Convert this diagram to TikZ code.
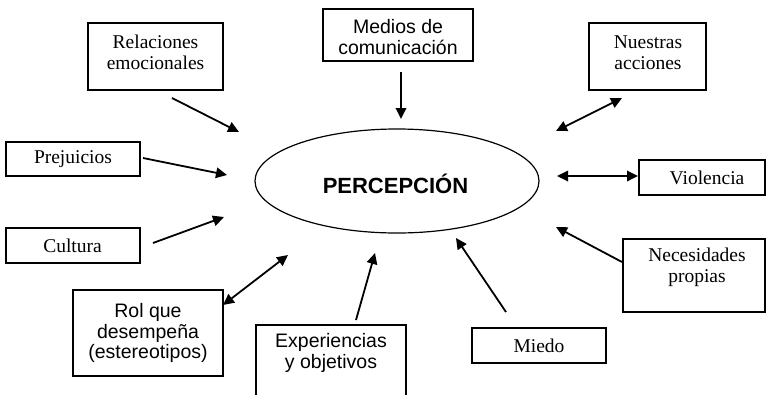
\documentclass[tikz,border=0pt]{standalone}
\usepackage{fontspec}
\setmainfont{Liberation Serif}
\newfontfamily\arialf{Liberation Sans}
\usetikzlibrary{arrows.meta,shapes.geometric}
\begin{document}
\begin{tikzpicture}[x=1pt,y=-1pt,
  box/.style={draw,line width=1.2pt,inner sep=0pt},
  stxt/.style={font=\fontsize{19.5}{20.5}\selectfont,align=center,inner sep=0pt},
  atxt/.style={font=\arialf\fontsize{19.5}{20.5}\selectfont,align=center,inner sep=0pt},
  tip/.tip={Triangle[length=11pt,width=10.5pt]},
  arr/.style={line width=1.8pt,-tip},
  darr/.style={line width=1.8pt,tip-tip}]
\useasboundingbox (0,0) rectangle (766,394);
\clip (0,0) rectangle (766,394);
\fill[white] (0,0) rectangle (766,394);

% central ellipse
\node[draw,line width=1.2pt,ellipse,minimum width=284pt,minimum height=104pt,inner sep=0pt] (per) at (397,181) {};
\node[font=\arialf\bfseries\fontsize{22}{24}\selectfont,inner sep=0pt] (perT) at (395.5,184) {PERCEPCIÓN};

% boxes
\node[box,minimum width=135pt,minimum height=67pt] (rel) at (155.5,56.5) {};
\node[stxt] (relT) at (155.5,52.5) {Relaciones\\emocionales};
\node[box,minimum width=150pt,minimum height=52pt] (med) at (398,35) {};
\node[atxt] (medT) at (398,37) {Medios de\\comunicación};
\node[box,minimum width=117pt,minimum height=67pt] (nue) at (647.5,56.5) {};
\node[stxt] (nueT) at (648,52.5) {Nuestras\\acciones};
\node[box,minimum width=134pt,minimum height=34pt] (pre) at (73,159) {};
\node[stxt] (preT) at (73,159) {Prejuicios};
\node[box,minimum width=126pt,minimum height=35pt] (vio) at (702,177.5) {};
\node[stxt] (vioT) at (707,178) {Violencia};
\node[box,minimum width=134pt,minimum height=35pt] (cul) at (73,245.5) {};
\node[stxt] (culT) at (72.5,245.5) {Cultura};
\node[box,minimum width=150pt,minimum height=86pt] (rol) at (148,333) {};
\node[atxt] (rolT) at (148,333) {Rol que\\desempeña\\(estereotipos)};
\node[box,minimum width=150pt,minimum height=95pt] (exp) at (331,372.5) {};
\node[atxt] (expT) at (331,353) {Experiencias\\y objetivos};
\node[box,minimum width=134pt,minimum height=35pt] (mie) at (539,345.5) {};
\node[stxt] (mieT) at (539,345.5) {Miedo};
\node[box,minimum width=142pt,minimum height=73pt] (nec) at (694,275.5) {};
\node[stxt] (necT) at (697,267.5) {Necesidades\\propias};

% arrow end points
\coordinate (relA) at (172,98);   \coordinate (relB) at (239,132);
\coordinate (medA) at (401,72);   \coordinate (medB) at (401,119);
\coordinate (nueA) at (556,131);  \coordinate (nueB) at (622,98);
\coordinate (preA) at (143,158);  \coordinate (preB) at (227,175);
\coordinate (vioA) at (557,176);  \coordinate (vioB) at (638,176);
\coordinate (culA) at (153,243);  \coordinate (culB) at (224,217);
\coordinate (rolA) at (223,305);  \coordinate (rolB) at (288,255);
\coordinate (expA) at (356,320);  \coordinate (expB) at (375,253);
\coordinate (mieA) at (506,312);  \coordinate (mieB) at (456,238);
\coordinate (necA) at (622,262);  \coordinate (necB) at (556,227);

\draw[arr] (relA) -- (relB);
\draw[arr] (medA) -- (medB);
\draw[darr] (nueA) -- (nueB);
\draw[arr] (preA) -- (preB);
\draw[darr] (vioA) -- (vioB);
\draw[arr] (culA) -- (culB);
\draw[darr] (rolA) -- (rolB);
\draw[arr] (expA) -- (expB);
\draw[arr] (mieA) -- (mieB);
\draw[arr] (necA) -- (necB);
\end{tikzpicture}
\end{document}
